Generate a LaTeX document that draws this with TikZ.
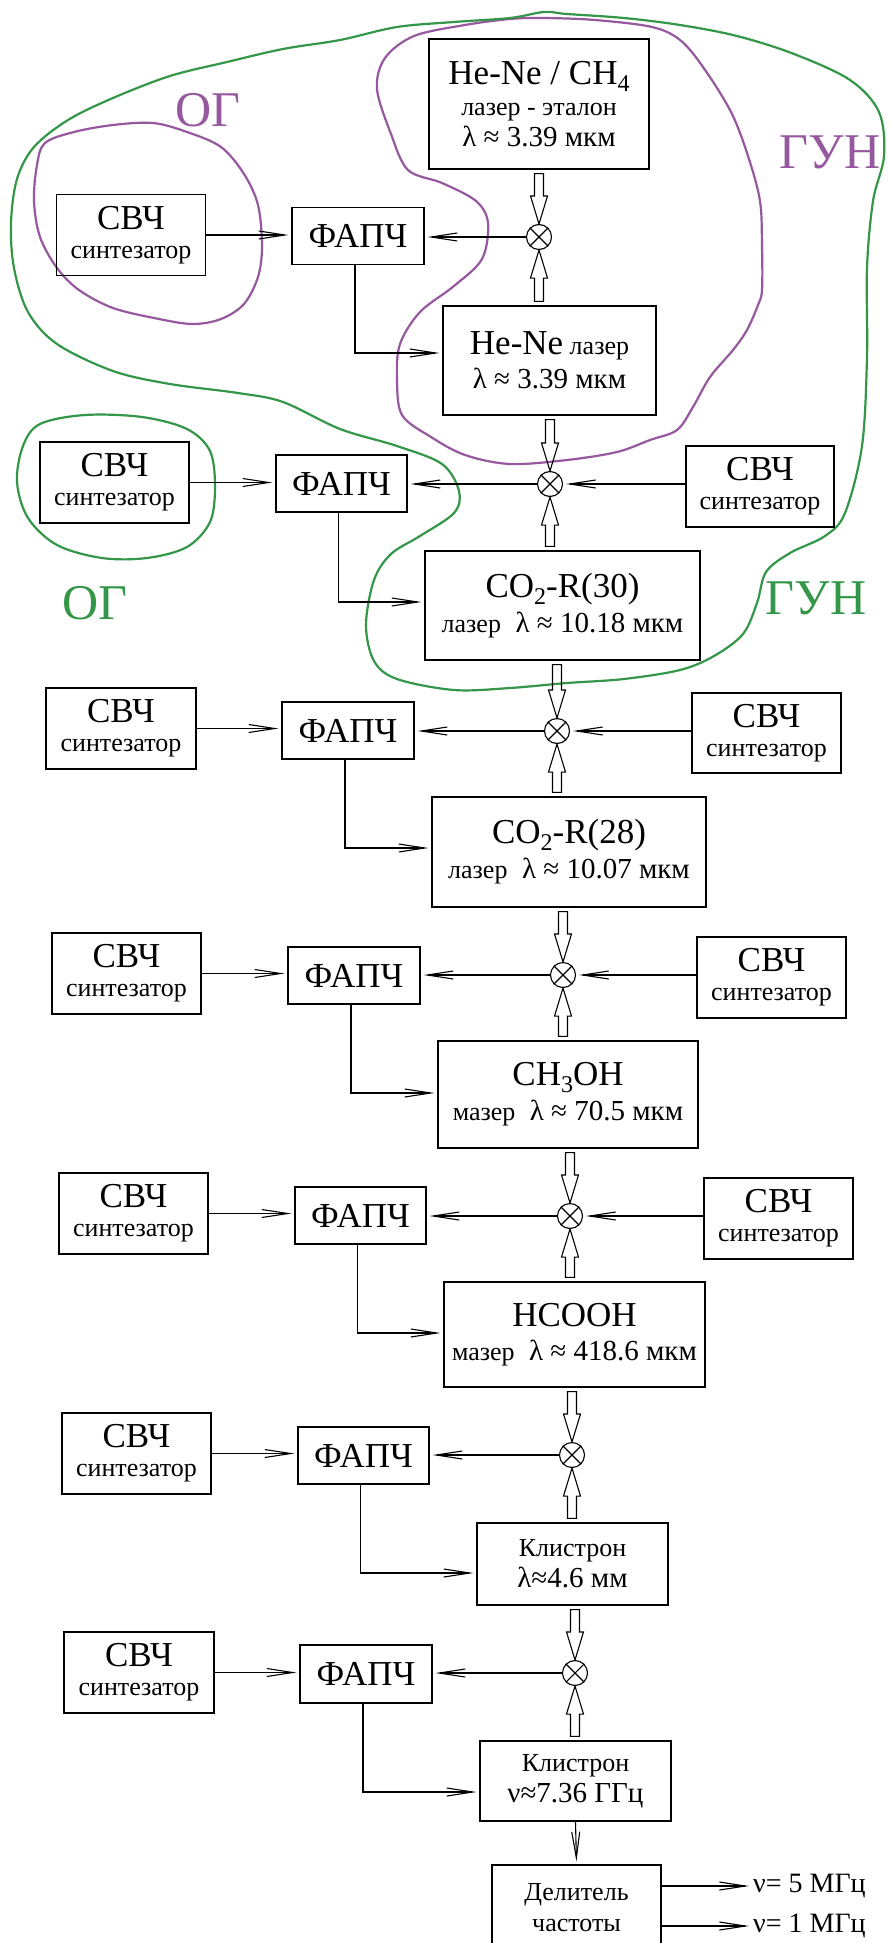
\documentclass[tikz,border=0pt]{standalone}
\usepackage{fontspec}
\setmainfont{Liberation Serif}
\usetikzlibrary{arrows.meta,calc}
\definecolor{pur}{RGB}{150,88,158}
\definecolor{grn}{RGB}{52,150,72}
\newcommand\fbig{\fontsize{35}{31}\selectfont}
\newcommand\fmid{\fontsize{29}{31}\selectfont}
\newcommand\fsm{\fontsize{26}{31}\selectfont}
\newcommand\subdig[1]{\raisebox{-7pt}{\fontsize{24}{24}\selectfont #1}}
\newcommand\bx[7]{\node[box, minimum width=#4pt, minimum height=#5pt, font=#6] (#1) at (#2,#3) {#7};}
\newcommand\mixer[3]{\node[mix] (#1) at (#2,#3) {};
  \draw[ln] (#1.north west) -- (#1.south east) (#1.north east) -- (#1.south west);}
\newcommand\hdown[2]{\draw[hol] let \p1=(#1.south), \p2=(#2.north) in
  ({\x2-4.5pt},{\y1-4pt}) -- ({\x2-4.5pt},{\y2+28pt}) -- ({\x2-8.5pt},{\y2+28pt}) -- (\x2,\y2)
  -- ({\x2+8.5pt},{\y2+28pt}) -- ({\x2+4.5pt},{\y2+28pt}) -- ({\x2+4.5pt},{\y1-4pt}) -- cycle;}
\newcommand\hup[2]{\draw[hol] let \p1=(#1.north), \p2=(#2.south) in
  ({\x2-4.5pt},{\y1+4pt}) -- ({\x2-4.5pt},{\y2-28pt}) -- ({\x2-8.5pt},{\y2-28pt}) -- (\x2,\y2)
  -- ({\x2+8.5pt},{\y2-28pt}) -- ({\x2+4.5pt},{\y2-28pt}) -- ({\x2+4.5pt},{\y1+4pt}) -- cycle;}
\tikzset{
  box/.style={draw, line width=1.2pt, inner sep=0pt, align=center},
  ln/.style={line width=1.1pt},
  arr/.style={line width=1.1pt, -{Straight Barb[length=26pt,width=8pt,line width=1.1pt]}, shorten >=3pt},
  hol/.style={line width=1.1pt},
  mix/.style={circle, draw, line width=1.1pt, minimum size=25pt, inner sep=0pt},
  blobp/.style={pur, line width=2.2pt},
  blobg/.style={grn, line width=2.2pt},
  lab/.style={font=\fontsize{50}{50}\selectfont, inner sep=0pt}
}
\begin{document}
\begin{tikzpicture}[x=1pt, y=-1pt]
\fill[white] (0,0) rectangle (889,1943);
\useasboundingbox (0,0) rectangle (889,1943);

% ---- hand-drawn contours ----
\draw[blobp] plot[smooth cycle, tension=0.55] coordinates {(45,143) (74,132) (113,125) (153,123) (187,132) (221,147) (244,174) (258,205) (262,246) (258,277) (244,304) (221,319) (193,324) (159,319) (113,308) (79,290) (57,268) (40,237) (34,201) (37,165)};
\draw[blobp] plot[smooth cycle, tension=0.55] coordinates {(544,18) (595,20) (652,27) (680,40) (703,67) (731,112) (748,156) (760,201) (762,246) (762,290) (758,305) (747,330) (733,350) (710,377) (693,407) (677,430) (650,440) (617,452) (567,460) (510,464) (465,455) (431,437) (402,415) (397,379) (400,344) (420,312) (454,286) (482,259) (488,223) (476,201) (442,183) (408,170) (391,134) (377,89) (385,58) (414,36) (465,25) (510,19)};
\draw[blobg] plot[smooth cycle, tension=0.55] coordinates {(544,12) (510,18) (454,22) (397,27) (340,40) (283,49) (227,62) (170,76) (113,98) (68,120) (34,147) (17,179) (11,223) (14,268) (28,312) (57,344) (113,371) (170,384) (238,393) (283,402) (340,429) (397,446) (442,464) (459,491) (454,513) (420,536) (391,554) (374,580) (366,625) (374,661) (397,679) (454,690) (510,688) (567,683) (624,679) (680,670) (714,656) (743,634) (757,603) (766,572) (790,553) (825,536) (845,513) (862,446) (867,357) (867,268) (873,201) (884,156) (879,112) (850,80) (794,54) (737,36) (680,25) (624,18) (567,14)};
\draw[blobg] plot[smooth cycle, tension=0.55] coordinates {(23,446) (40,424) (85,415) (142,417) (187,429) (210,451) (215,487) (210,522) (187,547) (147,558) (102,558) (57,545) (28,518) (17,482)};

\node[lab, pur] (og1) at (208,110) {ОГ};
\node[lab, pur] (gun1) at (830,152) {ГУН};
\node[lab, grn] (og2) at (95,603) {ОГ};
\node[lab, grn] (gun2) at (816,598) {ГУН};

% ---- row 1 ----
\bx{e0}{539}{104}{220}{130}{\fsm}{{\fbig He-Ne / CH\subdig{4}}\\лазер - эталон\\{\fmid λ ≈ 3.39 мкм}}
\bx{s1}{131}{235}{149}{81}{\fsm}{{\fbig СВЧ}\\[-2pt]синтезатор}
\bx{f1}{358}{236}{132}{57}{\fbig}{ФАПЧ}
\mixer{m1}{539}{237}
\bx{l1}{549.5}{360.5}{213}{109}{\fsm}{{\fbig He-Ne} лазер\\[3pt]{\fmid λ ≈ 3.39 мкм}}

% ---- row 2 ----
\bx{s2}{114.5}{482.5}{149}{81}{\fsm}{{\fbig СВЧ}\\[-2pt]синтезатор}
\bx{f2}{341.5}{483.5}{131}{57}{\fbig}{ФАПЧ}
\mixer{m2}{550}{484}
\bx{r2}{760}{486.5}{148}{81}{\fsm}{{\fbig СВЧ}\\[-2pt]синтезатор}
\bx{l2}{562.5}{605.5}{275}{109}{\fmid}{{\fbig CO\subdig{2}-R(30)}\\[4pt]{\fsm лазер}\ \ λ ≈ 10.18 мкм}

% ---- row 3 ----
\bx{s3}{121}{728.5}{150}{81}{\fsm}{{\fbig СВЧ}\\[-2pt]синтезатор}
\bx{f3}{348}{730.5}{132}{57}{\fbig}{ФАПЧ}
\mixer{m3}{557}{731}
\bx{r3}{766.5}{733}{149}{80}{\fsm}{{\fbig СВЧ}\\[-2pt]синтезатор}
\bx{l3}{569}{852}{274}{110}{\fmid}{{\fbig CO\subdig{2}-R(28)}\\[4pt]{\fsm лазер}\ \ λ ≈ 10.07 мкм}

% ---- row 4 ----
\bx{s4}{126.5}{973.5}{149}{81}{\fsm}{{\fbig СВЧ}\\[-2pt]синтезатор}
\bx{f4}{354}{975.5}{132}{57}{\fbig}{ФАПЧ}
\mixer{m4}{563}{975}
\bx{r4}{771.5}{977.5}{149}{81}{\fsm}{{\fbig СВЧ}\\[-2pt]синтезатор}
\bx{l4}{568}{1094.5}{260}{107}{\fmid}{{\fbig CH\subdig{3}OH}\\[4pt]{\fsm мазер}\ \ λ ≈ 70.5 мкм}

% ---- row 5 ----
\bx{s5}{133.5}{1213.5}{149}{81}{\fsm}{{\fbig СВЧ}\\[-2pt]синтезатор}
\bx{f5}{360.5}{1215.5}{131}{57}{\fbig}{ФАПЧ}
\mixer{m5}{570}{1216}
\bx{r5}{778.5}{1218.5}{149}{81}{\fsm}{{\fbig СВЧ}\\[-2pt]синтезатор}
\bx{l5}{574.5}{1334.5}{261}{105}{\fmid}{{\fbig HCOOH}\\[3pt]{\fsm мазер}\ \ λ ≈ 418.6 мкм}

% ---- row 6 ----
\bx{s6}{136.5}{1453.5}{149}{81}{\fsm}{{\fbig СВЧ}\\[-2pt]синтезатор}
\bx{f6}{363.5}{1455.5}{131}{57}{\fbig}{ФАПЧ}
\mixer{m6}{572}{1455}
\bx{l6}{572.5}{1564}{191}{82}{\fsm}{Клистрон\\{\fmid λ≈4.6 мм}}

% ---- row 7 ----
\bx{s7}{139}{1672.5}{150}{81}{\fsm}{{\fbig СВЧ}\\[-2pt]синтезатор}
\bx{f7}{366}{1674}{132}{58}{\fbig}{ФАПЧ}
\mixer{m7}{575}{1673}
\bx{l7}{575.5}{1781}{191}{80}{\fsm}{Клистрон\\{\fmid ν≈7.36 ГГц}}

\bx{dl}{576.5}{1907.5}{169}{85}{\fsm}{Делитель\\частоты}
\node[font=\fontsize{28}{30}\selectfont, anchor=west, inner sep=1pt] (o1) at (752,1886) {ν= 5 МГц};
\node[font=\fontsize{28}{30}\selectfont, anchor=west, inner sep=1pt] (o2) at (752,1926) {ν= 1 МГц};

% ---- thin connectors ----
\foreach \i in {1,...,7} {
  \draw[arr] (s\i.east) -- (s\i.east -| f\i.west);
  \draw[arr] (m\i.west) -- (m\i.west -| f\i.east);
}
\foreach \i in {2,...,5} {
  \draw[arr] (r\i.west |- m\i) -- (m\i.east);
}
\draw[arr] ([xshift=-3pt]f1.south) |- ([yshift=7.5pt]l1.west);
\draw[arr] ([xshift=-3pt]f2.south) |- ([yshift=3.5pt]l2.west);
\draw[arr] ([xshift=-3pt]f3.south) |- ([yshift=4pt]l3.west);
\draw[arr] ([xshift=-3pt]f4.south) |- ([yshift=1.5pt]l4.west);
\draw[arr] ([xshift=-3pt]f5.south) |- ([yshift=1.5pt]l5.west);
\draw[arr] ([xshift=-3pt]f6.south) |- ([yshift=-9pt]l6.west);
\draw[arr] ([xshift=-3pt]f7.south) |- ([yshift=-11pt]l7.west);
\draw[arr] (l7.south) -- (dl.north);
\draw[arr] (dl.east |- o1.west) -- (o1.west);
\draw[arr] (dl.east |- o2.west) -- (o2.west);

% ---- hollow arrows ----
\hdown{e0}{m1}
\hup{l1}{m1}
\hdown{l1}{m2}
\hup{l2}{m2}
\hdown{l2}{m3}
\hup{l3}{m3}
\hdown{l3}{m4}
\hup{l4}{m4}
\hdown{l4}{m5}
\hup{l5}{m5}
\hdown{l5}{m6}
\hup{l6}{m6}
\hdown{l6}{m7}
\hup{l7}{m7}
\end{tikzpicture}
\end{document}
